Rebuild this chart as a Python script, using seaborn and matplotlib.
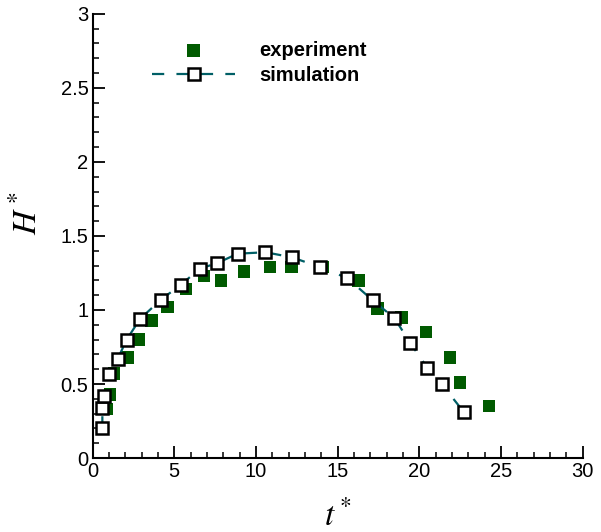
import matplotlib
matplotlib.use("Agg")
import matplotlib.pyplot as plt
import seaborn as sns
import pandas as pd
from matplotlib.ticker import MultipleLocator

# experiment data (filled squares)
exp_t = [0.58, 0.87, 1.07, 1.33, 2.15, 2.85, 3.62, 4.6, 5.72, 6.82, 7.86, 9.26,
         10.86, 12.19, 14.09, 16.27, 17.45, 18.92, 20.41, 21.88, 22.49, 24.27]
exp_h = [0.20, 0.33, 0.43, 0.57, 0.68, 0.80, 0.93, 1.02, 1.14, 1.23, 1.20, 1.26,
         1.29, 1.29, 1.29, 1.20, 1.01, 0.95, 0.85, 0.68, 0.51, 0.35]

# simulation data (open squares, dashed)
sim_t = [0.6, 0.6, 0.72, 1.03, 1.54, 2.09, 2.91, 4.19, 5.4, 6.58, 7.6, 8.88,
         10.58, 12.19, 13.92, 15.6, 17.15, 18.48, 19.43, 20.49, 21.37, 22.73]
sim_h = [0.20, 0.34, 0.42, 0.565, 0.67, 0.80, 0.94, 1.07, 1.17, 1.28, 1.315, 1.38,
         1.39, 1.356, 1.29, 1.215, 1.065, 0.945, 0.78, 0.61, 0.50, 0.31]

exp_df = pd.DataFrame({"t": exp_t, "H": exp_h})
sim_df = pd.DataFrame({"t": sim_t, "H": sim_h})

sns.set_style("ticks")
plt.rcParams["font.family"] = ["Liberation Sans", "DejaVu Sans"]
plt.rcParams["mathtext.fontset"] = "stix"

fig = plt.figure(figsize=(6.01, 5.32), dpi=100)
ax = fig.add_axes([0.154, 0.139, 0.8155, 0.835])

green = "#005a00"
teal = "#005f66"

sns.scatterplot(data=exp_df, x="t", y="H", marker="s", s=80, color=green,
                edgecolor="none", linewidth=0, ax=ax, label="experiment", zorder=2)
sns.lineplot(data=sim_df, x="t", y="H", sort=False, estimator=None, ax=ax, color=teal,
             linewidth=1.6, linestyle=(0, (5.5, 5.5)), marker="s", markersize=9.3,
             markerfacecolor="white", markeredgecolor="black", markeredgewidth=1.8,
             label="simulation", zorder=3)

ax.set_xlim(0, 30)
ax.set_ylim(0, 3)
ax.xaxis.set_major_locator(MultipleLocator(5))
ax.xaxis.set_minor_locator(MultipleLocator(1))
ax.yaxis.set_major_locator(MultipleLocator(0.5))
ax.yaxis.set_minor_locator(MultipleLocator(0.1))
ax.set_xticks([0, 5, 10, 15, 20, 25, 30])
ax.set_xticklabels(["0", "5", "10", "15", "20", "25", "30"])
ax.set_yticks([0, 0.5, 1, 1.5, 2, 2.5, 3])
ax.set_yticklabels(["0", "0.5", "1", "1.5", "2", "2.5", "3"])

ax.tick_params(which="major", direction="in", length=8.5, width=1.3, labelsize=14.5,
               pad=3, colors="black")
ax.tick_params(which="minor", direction="in", length=4, width=1.1, colors="black")
sns.despine(ax=ax)
for sp in ["left", "bottom"]:
    ax.spines[sp].set_linewidth(1.5)
    ax.spines[sp].set_color("black")

ax.set_xlabel("$t^*$", fontsize=24, color="black")
ax.set_ylabel("$H^*$", fontsize=24, color="black")
ax.xaxis.set_label_coords(0.5, -0.095)
ax.yaxis.set_label_coords(-0.1, 0.55)

leg = ax.legend(loc="upper left", bbox_to_anchor=(0.085, 0.98), frameon=False,
                prop={"weight": "bold", "size": 14.5}, handlelength=4.1,
                handletextpad=1.2, labelspacing=0.3)
for txt in leg.get_texts():
    txt.set_color("black")

fig.savefig("out.png", dpi=100)
